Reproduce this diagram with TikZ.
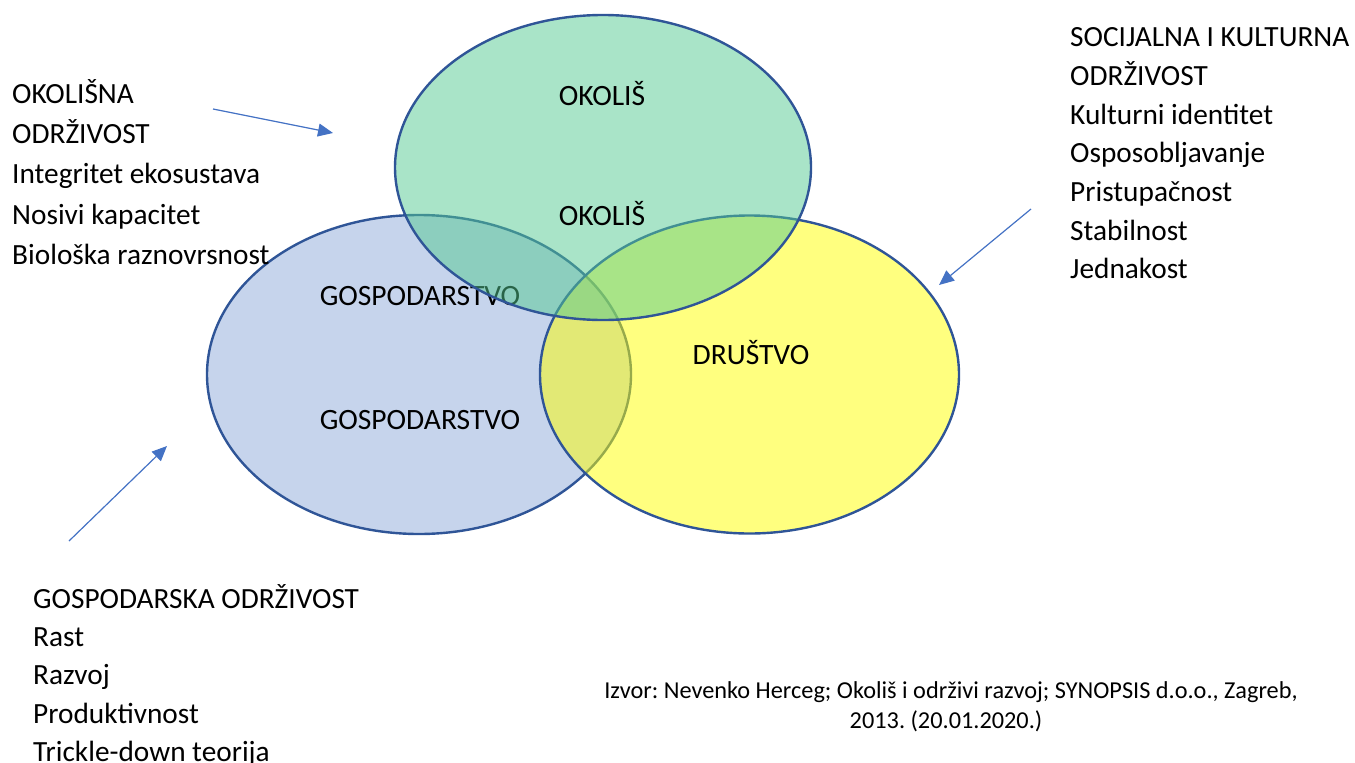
\documentclass[tikz,border=0pt]{standalone}
\usepackage{fontspec}
\setmainfont{Carlito}
\frenchspacing
\usetikzlibrary{arrows.meta}
\definecolor{rimblue}{RGB}{47,85,151}
\definecolor{arrowblue}{RGB}{68,114,196}
\definecolor{okfill}{RGB}{83,201,145}
\definecolor{gosfill}{RGB}{198,212,236}
\definecolor{drfill}{RGB}{255,255,0}

\begin{document}
\begin{tikzpicture}[x=1pt,y=-1pt,
  circ/.style={draw=rimblue,line width=2.4pt},
  lbl/.style={inner sep=0pt,anchor=base,font=\fontsize{29.5}{34}\selectfont},
  txt/.style={inner sep=0pt,anchor=base west,font=\fontsize{29.3}{34}\selectfont},
  src/.style={inner sep=0pt,anchor=base,font=\fontsize{24.3}{30}\selectfont},
  pointer/.style={draw=arrowblue,line width=1.2pt,-{Triangle[length=15pt,width=13pt]}}]
\useasboundingbox (0,0) rectangle (1355,763);
% the three circles
\path[circ,fill=gosfill] (419,374.5) ellipse [x radius=212pt,y radius=159.5pt];
\path[circ,fill=drfill,fill opacity=0.5] (749.5,374.5) ellipse [x radius=209.5pt,y radius=159pt];
\node[lbl] (gos1) at (420,305) {GOSPODARSTVO};
\path[circ,fill=okfill,fill opacity=0.5] (603,167.5) ellipse [x radius=208pt,y radius=152.5pt];
\node[lbl] (ok1) at (602,105) {OKOLIŠ};
\node[lbl] (ok2) at (602,225) {OKOLIŠ};
\node[lbl] (gos2) at (420,429) {GOSPODARSTVO};
\node[lbl] (dru) at (751,364) {DRUŠTVO};
% the three lists
\foreach \t [count=\i] in {OKOLIŠNA,ODRŽIVOST,Integritet ekosustava,Nosivi kapacitet,Biološka raznovrsnost}
  \node[txt] (env\i) at (12,{103.3+40.3*(\i-1)}) {\t};
\foreach \t [count=\i] in {SOCIJALNA I KULTURNA,ODRŽIVOST,Kulturni identitet,Osposobljavanje,Pristupačnost,Stabilnost,Jednakost}
  \node[txt] (soc\i) at (1070,{46.7+38.7*(\i-1)}) {\t};
\foreach \t [count=\i] in {GOSPODARSKA ODRŽIVOST,Rast,Razvoj,Produktivnost,Trickle-down teorija}
  \node[txt] (eco\i) at (33,{608+38.4*(\i-1)}) {\t};
% pointers
\coordinate (envfrom) at (213,109);
\coordinate (envto) at (333,133);
\coordinate (socfrom) at (1031,209);
\coordinate (socto) at (939,285);
\coordinate (ecofrom) at (69,541);
\coordinate (ecoto) at (167,446);
\draw[pointer] (envfrom) -- (envto);
\draw[pointer] (socfrom) -- (socto);
\draw[pointer] (ecofrom) -- (ecoto);
% source
\node[src] (izvor1) at (951,698) {Izvor: Nevenko Herceg; Okoliš i održivi razvoj; SYNOPSIS d.o.o., Zagreb,};
\node[src] (izvor2) at (946,728) {2013. (20.01.2020.)};
\end{tikzpicture}
\end{document}
